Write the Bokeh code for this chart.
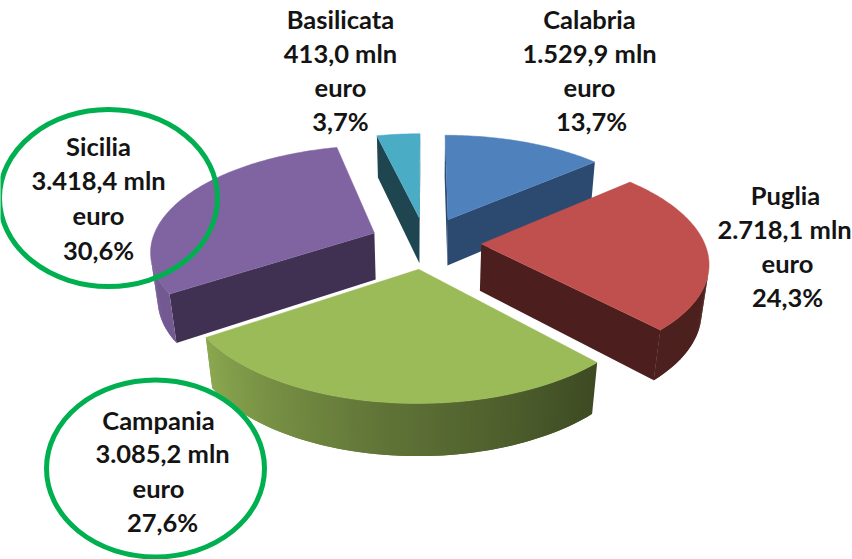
import numpy as np
from bokeh.plotting import figure
from bokeh.models import Range1d
from bokeh.core.properties import value
from bokeh.embed import file_html
from bokeh.resources import INLINE

# data
regions = ["Calabria", "Puglia", "Campania", "Sicilia", "Basilicata"]
amounts = [1529.9, 2718.1, 3085.2, 3418.4, 413.0]
amount_labels = ["1.529,9 mln", "2.718,1 mln", "3.085,2 mln", "3.418,4 mln", "413,0 mln"]
share_labels = ["13,7%", "24,3%", "27,6%", "30,6%", "3,7%"]
top_colors = ["#4f81bd", "#c0504d", "#9bbb59", "#8064a2", "#4bacc6"]
face_colors = ["#2c4a70", "#4d1e1e", "#4d5e2c", "#403152", "#1f4650"]
paint_order = [4, 0, 3, 1, 2]

# projection of the tilted pie
CX, CY, A, B, K, D, M = 425.0, 242.0, 223.0, 104.0, 0.155, 48.0, 0.026
EXPLODE = 0.25
shade_deg = [90, 137, 186, 236, 280]
shade_val = [0.40, 0.40, 0.62, 0.90, 0.93]


def proj(u, v, low):
    w = 1 - K * v + (M if low else 0)
    x = CX + A * u / w
    y = CY + (B * v + (D if low else 0)) / w
    return x, y


def area(px, py):
    px, py = np.array(px), np.array(py)
    return 0.5 * np.sum(px * np.roll(py, -1) - np.roll(px, -1) * py)


def shaded(color, f):
    r, g, b = [int(color[i:i + 2], 16) for i in (1, 3, 5)]
    return "#%02x%02x%02x" % (int(r * f), int(g * f), int(b * f))


shares = np.array(amounts) / sum(amounts)
edges = np.concatenate([[0], np.cumsum(shares)]) * 360

p = figure(width=852, height=559, x_range=Range1d(0, 852), y_range=Range1d(559, 0),
           x_axis_type=None, y_axis_type=None, toolbar_location=None,
           output_backend="svg", min_border=0, outline_line_color=None)
p.grid.visible = False

for i in paint_order:
    a0, a1 = edges[i], edges[i + 1]
    mid = np.radians((a0 + a1) / 2)
    ou, ov = EXPLODE * np.sin(mid), -EXPLODE * np.cos(mid)
    th = np.radians(np.linspace(a0, a1, int(a1 - a0) + 2))
    us, vs = ou + np.sin(th), ov - np.cos(th)
    xs_fill, ys_fill, cols = [], [], []
    # radial faces
    for j, sign in ((0, 1), (-1, -1)):
        q = [proj(ou, ov, False), proj(us[j], vs[j], False),
             proj(us[j], vs[j], True), proj(ou, ov, True)]
        qx, qy = [c[0] for c in q], [c[1] for c in q]
        if sign * area(qx, qy) < 0:
            xs_fill.append(qx); ys_fill.append(qy); cols.append(face_colors[i])
    # outer wall: each band overlaps the next so no seams show
    for n in range(len(th) - 1):
        e = min(n + 2, len(th) - 1)
        q = [proj(us[n], vs[n], False), proj(us[e], vs[e], False),
             proj(us[e], vs[e], True), proj(us[n], vs[n], True)]
        qx, qy = [c[0] for c in q], [c[1] for c in q]
        if area(qx, qy) < 0:
            f = np.interp(np.degrees(th[n]), shade_deg, shade_val)
            xs_fill.append(qx); ys_fill.append(qy); cols.append(shaded(top_colors[i], f))
    if xs_fill:
        p.patches(xs_fill, ys_fill, fill_color=cols, line_color=None)
    # top
    tx, ty = proj(np.concatenate([[ou], us]), np.concatenate([[ov], vs]), False)
    p.patch(tx, ty, fill_color=top_colors[i], line_color=top_colors[i], line_width=0.5)

# highlight rings
ring_x, ring_y, ring_w, ring_h = [108, 155], [197.5, 468], [218, 218], [177, 177]
p.ellipse(ring_x, ring_y, width=ring_w, height=ring_h, fill_color=None,
          line_color="#00b050", line_width=5)

# labels
label_x = {"Calabria": [589, 589, 589, 591], "Puglia": [785, 784, 787, 787],
           "Campania": [158, 162, 158, 162], "Sicilia": [98, 98, 98, 98],
           "Basilicata": [340, 340, 340, 340]}
label_y = {"Calabria": [18, 52, 86, 120], "Puglia": [194, 228, 262, 296],
           "Campania": [419, 452, 487, 521], "Sicilia": [145, 179, 214, 249],
           "Basilicata": [18, 52, 86, 120]}
tx, ty, tt = [], [], []
for i, r in enumerate(regions):
    lines = [r, amount_labels[i], "euro", share_labels[i]]
    tx += label_x[r]; ty += label_y[r]; tt += lines
p.text(tx, ty, text=tt, text_font=value("Lato"), text_font_size="25.5px", text_font_style="bold",
       text_align="center", text_baseline="middle", text_color="#141414")

open("out.html", "w").write(file_html(p, INLINE))
